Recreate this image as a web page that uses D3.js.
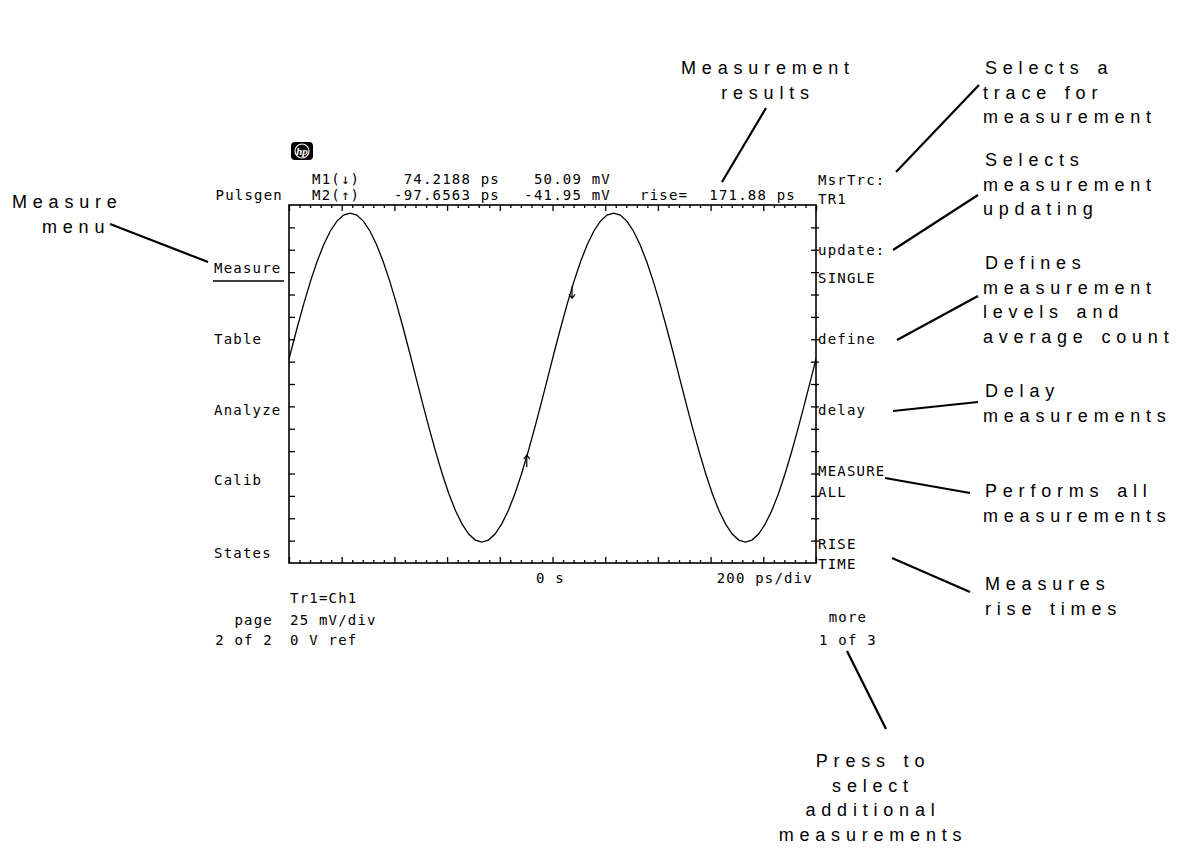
<!DOCTYPE html>
<html><head><meta charset="utf-8">
<script src="https://cdn.jsdelivr.net/npm/d3@7"></script>
<style>
body{margin:0;background:#fff;}
svg{display:block;background:#fff;}
.scope{font-family:"DejaVu Sans Mono","Liberation Mono",monospace;font-size:14px;letter-spacing:1.2px;fill:#000;}
.call{font-family:"Liberation Sans",Arial,sans-serif;font-size:18px;letter-spacing:5.8px;word-spacing:2px;fill:#000;}
</style></head><body>
<svg id="c" width="1199" height="851"></svg>
<script>
// ---------------- data ----------------
const waveTime = [-1018,-993,-968,-943,-918,-893,-868,-843,-818,-793,-768,-743,-718,-693,-668,-643,-618,-593,-568,-543,
  -518,-493,-468,-443,-418,-393,-368,-343,-318,-293,-268,-243,-218,-193,-168,-143,-118,-93,-68,-43,
  -18,7,32,57,82,107,132,157,182,207,232,257,282,307,332,357,382,407,432,457,
  482,507,532,557,582,607,632,657,682,707,732,757,782,807,832,857,882,907,932,957,982,1007];
const waveMV = [3.6,18.0,32.0,45.3,57.6,68.6,77.9,85.5,91.0,94.4,95.5,94.4,91.0,85.5,77.9,68.6,57.6,45.3,32.0,18.0,
  3.6,-10.8,-24.8,-38.1,-50.4,-61.4,-70.8,-78.3,-83.8,-87.2,-88.3,-87.2,-83.8,-78.3,-70.8,-61.4,-50.4,-38.1,-24.8,-10.8,
  3.6,18.0,32.0,45.3,57.6,68.6,77.9,85.5,91.0,94.4,95.5,94.4,91.0,85.5,77.9,68.6,57.6,45.3,32.0,18.0,
  3.6,-10.8,-24.8,-38.1,-50.4,-61.4,-70.8,-78.3,-83.8,-87.2,-88.3,-87.2,-83.8,-78.3,-70.8,-61.4,-50.4,-38.1,-24.8,-10.8,
  3.6,18.0];
const markerNames = ["M1(\u2193)", "M2(\u2191)"];
const markerTimes = [74.2188, -97.6563];
const markerVolts = [50.09, -41.95];
const markerTimeText = ["74.2188 ps", "-97.6563 ps"];
const markerVoltText = ["50.09 mV", "-41.95 mV"];
const riseText = ["rise=", "171.88 ps"];
const timeDomain = [-1000, 1000];
const voltDomain = [-100, 100];
const timeMajor = [-1000,-800,-600,-400,-200,0,200,400,600,800,1000];
const timeMinor = [-960,-920,-880,-840,-760,-720,-680,-640,-560,-520,-480,-440,-360,-320,-280,-240,-160,-120,-80,-40,
  40,80,120,160,240,280,320,360,440,480,520,560,640,680,720,760,840,880,920,960];
const voltTicks = [-87.5,-75,-62.5,-50,-37.5,-25,-12.5,0,12.5,25,37.5,50,62.5,75,87.5];
const leftMenu = ["Pulsgen","Measure","Table","Analyze","Calib","States"];
const rightMenu = [["MsrTrc:"," TR1"],["update:","SINGLE"],["define"],["delay"],["MEASURE","ALL"],["RISE","TIME"]];
const bottomLeft = [["","Tr1=Ch1"],["page","25 mV/div"],["2 of 2","0 V ref"]];
const bottomAxisText = ["0 s", "200 ps/div"];
const moreText = ["more", "1 of 3"];
const callouts = [
  ["Measurement","results"],
  ["Selects a","trace for","measurement"],
  ["Selects","measurement","updating"],
  ["Defines","measurement","levels and","average count"],
  ["Delay","measurements"],
  ["Performs all","measurements"],
  ["Measures","rise times"],
  ["Measure","menu"],
  ["Press to","select","additional","measurements"]
];

// ---------------- layout ----------------
const svg = d3.select("#c");
const L = 289, R = 816, T = 205, B = 563;
const x = d3.scaleLinear().domain(timeDomain).range([L, R]);
const y = d3.scaleLinear().domain(voltDomain).range([B, T]);

// frame
svg.append("rect").attr("x",L).attr("y",T).attr("width",R-L).attr("height",B-T)
  .attr("fill","none").attr("stroke","#000").attr("stroke-width",1.6);

function styleAxis(g){ g.select(".domain").remove(); g.selectAll("text").remove();
  g.selectAll("line").attr("stroke","#000").attr("stroke-width",1.3); }

// top / bottom ticks (inside)
svg.append("g").attr("transform",`translate(0,${T})`).call(d3.axisTop(x).tickValues(timeMinor).tickSize(-3).tickSizeOuter(0)).call(styleAxis);
svg.append("g").attr("transform",`translate(0,${T})`).call(d3.axisTop(x).tickValues(timeMajor).tickSize(-6).tickSizeOuter(0)).call(styleAxis);
svg.append("g").attr("transform",`translate(0,${B})`).call(d3.axisBottom(x).tickValues(timeMinor).tickSize(-3).tickSizeOuter(0)).call(styleAxis);
svg.append("g").attr("transform",`translate(0,${B})`).call(d3.axisBottom(x).tickValues(timeMajor).tickSize(-6).tickSizeOuter(0)).call(styleAxis);
// left / right ticks
svg.append("g").attr("transform",`translate(${L},0)`).call(d3.axisLeft(y).tickValues(voltTicks).tickSize(-6).tickSizeOuter(0)).call(styleAxis);
svg.append("g").attr("transform",`translate(${R+3},0)`).call(d3.axisRight(y).tickValues(voltTicks).tickSize(-8).tickSizeOuter(0)).call(styleAxis);

// trace
svg.append("clipPath").attr("id","clip").append("rect").attr("x",L).attr("y",T).attr("width",R-L).attr("height",B-T);
const pts = waveTime.map((t,i)=>[t, waveMV[i]]);
svg.append("path").datum(pts).attr("clip-path","url(#clip)")
  .attr("d", d3.line().x(d=>x(d[0])).y(d=>y(d[1])))
  .attr("fill","none").attr("stroke","#000").attr("stroke-width",1.3);

// markers on trace
markerTimes.forEach((t,i)=>{
  const mx = x(t), my = y(markerVolts[i]);
  const g = svg.append("g").attr("fill","none").attr("stroke","#000").attr("stroke-width",1.2);
  if(i===0){ // down arrow
    g.append("path").attr("d",`M${mx},${my-8}V${my+4}M${mx-3},${my}L${mx},${my+4}L${mx+3},${my}`);
  } else { // up arrow
    g.append("path").attr("d",`M${mx},${my+8}V${my-4}M${mx-3},${my}L${mx},${my-4}L${mx+3},${my}`);
  }
});

// hp logo
svg.append("rect").attr("x",291).attr("y",142).attr("width",22).attr("height",18).attr("rx",4).attr("fill","#000");
svg.append("circle").attr("cx",302).attr("cy",151).attr("r",7).attr("fill","none").attr("stroke","#fff").attr("stroke-width",1.2);
svg.append("text").attr("x",302).attr("y",155).attr("text-anchor","middle")
  .attr("font-family","Liberation Serif, serif").attr("font-style","italic").attr("font-weight","bold")
  .attr("font-size",11).attr("fill","#fff").text("hp");

const st = (tx,xx,yy,anchor)=>svg.append("text").attr("class","scope").attr("x",xx).attr("y",yy)
  .attr("text-anchor",anchor||"start").text(tx);

// header rows
const rowY = [183.5, 200];
markerNames.forEach((n,i)=>{
  st(n, 312, rowY[i]);
  st(markerTimeText[i], 500, rowY[i], "end");
  st(markerVoltText[i], 611, rowY[i], "end");
});
st(riseText[0], 640, rowY[1]);
st(riseText[1], 796, rowY[1], "end");

// left menu
const leftY = [200, 273, 344, 415, 485, 558];
leftMenu.forEach((m,i)=>{
  if(i===0) st(m, 283, leftY[i], "end"); else st(m, 214, leftY[i]);
});
svg.append("line").attr("x1",213).attr("x2",284).attr("y1",281).attr("y2",281).attr("stroke","#000").attr("stroke-width",1.3);

// right menu
const rightY = [[185,204],[255,283],[344],[415],[476,497],[549,569]];
rightMenu.forEach((lines,i)=>lines.forEach((ln,j)=>st(ln, 818, rightY[i][j])));

// bottom texts
st(bottomAxisText[0], 536, 583);
st(bottomAxisText[1], 813, 583, "end");
const blY = [603, 625, 645];
bottomLeft.forEach((r,i)=>{ if(r[0]) st(r[0], 273, blY[i], "end"); st(r[1], 290, blY[i]); });
st(moreText[0], 848, 622, "middle");
st(moreText[1], 848, 645, "middle");

// callouts (x per line list; anchor per block)
const cPos = [
  {x:[768,768], y:74, a:"middle"},
  {x:[985,983,983], y:74},
  {x:[985,983,983], y:166},
  {x:[985,983,983,983], y:269},
  {x:[985,983], y:397},
  {x:[985,983], y:497},
  {x:[985,985], y:590},
  {x:[12,42], y:208},
  {x:[873,873,873,873], y:767, a:"middle"}
];
const lh = 24.5;
callouts.forEach((lines,i)=>{
  const p = cPos[i];
  lines.forEach((ln,j)=>{
    svg.append("text").attr("class","call").attr("x",p.x[j]).attr("y",p.y+j*lh)
      .attr("text-anchor",p.a||"start").text(ln);
  });
});
const leaders = [
  [766,108,722,182],
  [979,85,896,172],
  [978,195,893,250],
  [978,296,897,340],
  [978,402,893,411],
  [970,493,885,478],
  [970,592,892,558],
  [110,224,208,262],
  [886,729,847,651]
];
leaders.forEach(l=>svg.append("line").attr("x1",l[0]).attr("y1",l[1]).attr("x2",l[2]).attr("y2",l[3])
  .attr("stroke","#000").attr("stroke-width",2.2));
</script></body></html>
